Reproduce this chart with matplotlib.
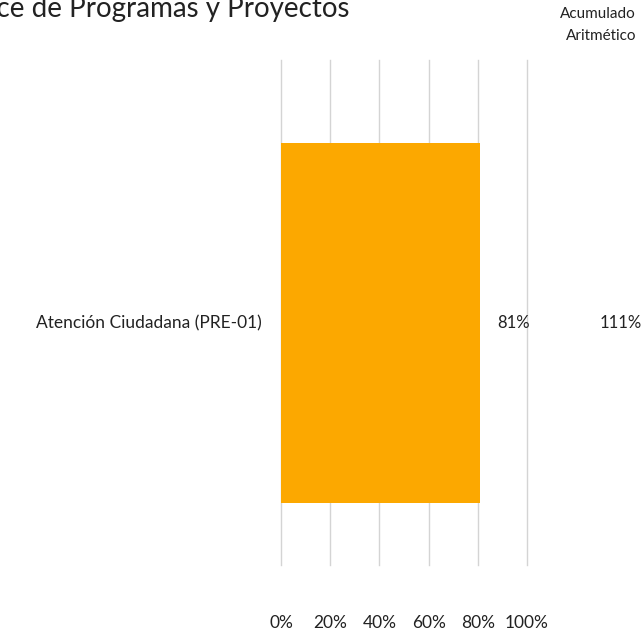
import numpy as np
import matplotlib.pyplot as plt

programas = ['Atención Ciudadana (PRE-01)']
avance = [0.81]
acumulado = [1.11]
ticks = [0, 0.2, 0.4, 0.6, 0.8, 1.0]
tick_labels = ['0%', '20%', '40%', '60%', '80%', '100%']

plt.rcParams['font.family'] = ['Lato', 'DejaVu Sans']

W, H = 641, 632
fig = plt.figure(figsize=(W / 100, H / 100), dpi=100)
ax = fig.add_axes([281 / W, (H - 565) / H, (527 - 281) / W, (565 - 60) / H])

y = np.arange(len(programas))
ax.barh(y, avance, height=360 / 505, color='#FCA800', zorder=2)
ax.set_xlim(0, 1)
ax.set_ylim(-(565 - 323) / 505, (323 - 60) / 505)

ax.set_xticks(ticks)
ax.set_xticklabels(tick_labels, fontsize=12.5, color='#222222')
ax.tick_params(axis='x', length=0, pad=36)
ax.set_yticks([])
ax.grid(axis='x', color='#d4d4d4', linewidth=1, zorder=0)
for g in ax.get_xgridlines():
    g.set_clip_on(False)
for s in ax.spines.values():
    s.set_visible(False)

for i, name in enumerate(programas):
    ax.text(-19 / 246, y[i], name, ha='right', va='center', fontsize=12.5, color='#222222')
    ax.text(497 / W, (H - 323) / H, f'{avance[i]:.0%}', transform=fig.transFigure,
            ha='left', va='center', fontsize=12, color='#222222')
    ax.text(600 / W, (H - 323) / H, f'{acumulado[i]:.0%}', transform=fig.transFigure,
            ha='left', va='center', fontsize=12, color='#222222')

fig.text(350 / W, (H - 9) / H, 'Avance de Programas y Proyectos', ha='right', va='center',
         fontsize=20, color='#222222')
fig.text(636 / W, (H - 14) / H, 'Acumulado', ha='right', va='center', fontsize=11, color='#222222')
fig.text(636 / W, (H - 36) / H, 'Aritmético', ha='right', va='center', fontsize=11, color='#222222')

fig.savefig('out.png', dpi=100)
